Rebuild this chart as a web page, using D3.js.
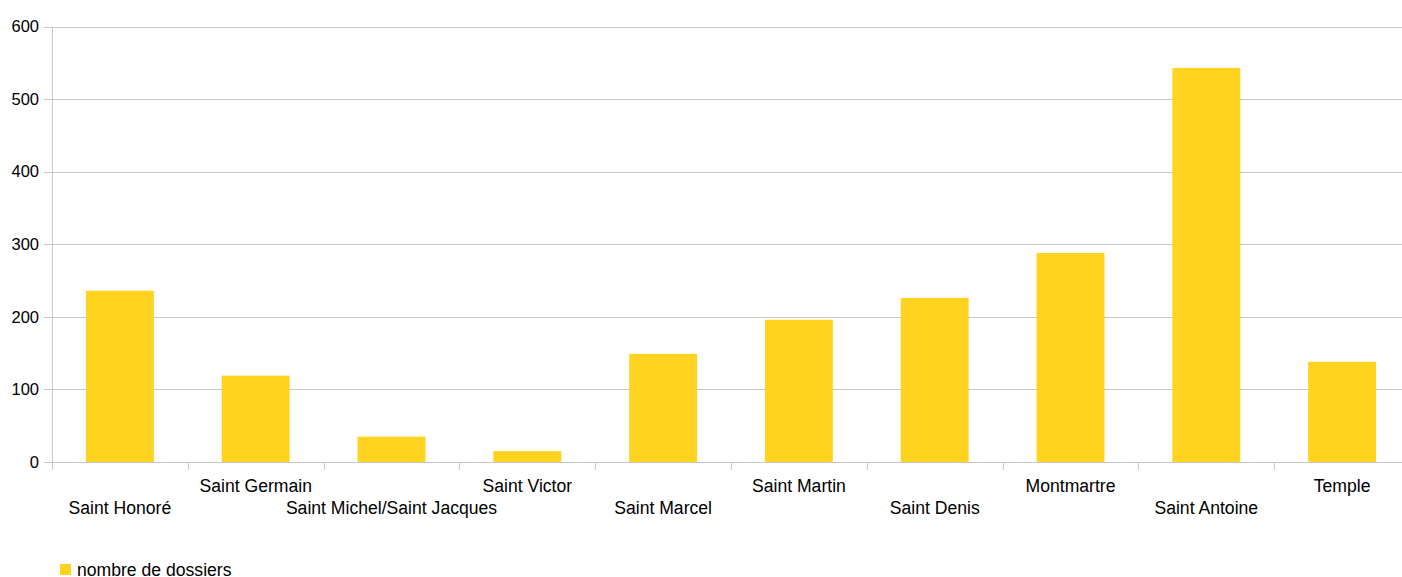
<!DOCTYPE html>
<html>
<head>
<meta charset="utf-8">
<script src="https://cdn.jsdelivr.net/npm/d3@7"></script>
<style>
  body { margin: 0; background: #fff; }
  text { font-family: "Liberation Sans", Arial, sans-serif; fill: #000; }
</style>
</head>
<body>
<div id="container"></div>
<script>
// data
var categories = ['Saint Honoré', 'Saint Germain', 'Saint Michel/Saint Jacques', 'Saint Victor',
    'Saint Marcel', 'Saint Martin', 'Saint Denis', 'Montmartre', 'Saint Antoine', 'Temple']
var values = [236, 119, 35, 15, 149, 196, 226, 288, 543, 138]
var yTicks = [0, 100, 200, 300, 400, 500, 600]
var seriesName = 'nombre de dossiers'

var width = 1402, height = 577
var plotLeft = 52, plotRight = 1410, plotTop = 26.5, plotBottom = 462

var svg = d3.select('#container').append('svg')
    .attr('width', width).attr('height', height)

var x = d3.scaleBand().domain(categories).range([plotLeft, plotRight]).paddingInner(0.5).paddingOuter(0.25)
var band = d3.scaleBand().domain(categories).range([plotLeft, plotRight])
var y = d3.scaleLinear().domain([0, 600]).range([plotBottom, plotTop])

// gridlines
svg.append('g').selectAll('line').data(yTicks).enter().append('line')
    .attr('x1', plotLeft - 8).attr('x2', plotRight)
    .attr('y1', function(d) { return Math.round(y(d)) + 0.5 })
    .attr('y2', function(d) { return Math.round(y(d)) + 0.5 })
    .style('stroke', '#c8c8c8').style('stroke-width', 1)

// y axis line
svg.append('line')
    .attr('x1', plotLeft + 0.5).attr('x2', plotLeft + 0.5)
    .attr('y1', y(600)).attr('y2', plotBottom + 8)
    .style('stroke', '#c8c8c8')

// x ticks between categories
svg.append('g').selectAll('line').data(categories.slice(1)).enter().append('line')
    .attr('x1', function(d) { return Math.round(band(d)) + 0.5 })
    .attr('x2', function(d) { return Math.round(band(d)) + 0.5 })
    .attr('y1', Math.round(plotBottom) + 0.5).attr('y2', plotBottom + 8)
    .style('stroke', '#c8c8c8')

// bars
svg.append('g').selectAll('rect').data(values).enter().append('rect')
    .attr('x', function(d, i) { return x(categories[i]) })
    .attr('width', x.bandwidth())
    .attr('y', function(d) { return y(d) })
    .attr('height', function(d) { return y(0) - y(d) })
    .style('fill', '#ffd320')

// y tick labels
svg.append('g').selectAll('text').data(yTicks).enter().append('text')
    .attr('x', 39).attr('y', function(d) { return y(d) })
    .attr('dy', '0.35em')
    .attr('text-anchor', 'end')
    .style('font-size', '16.5px')
    .text(function(d) { return d })

// category labels, staggered
svg.append('g').selectAll('text').data(categories).enter().append('text')
    .attr('x', function(d) { return band(d) + band.bandwidth() / 2 })
    .attr('y', function(d, i) { return i % 2 == 0 ? 514 : 492 })
    .attr('text-anchor', 'middle')
    .style('font-size', '17.6px')
    .text(function(d) { return d })

// legend
svg.append('rect').attr('x', 60).attr('y', 564).attr('width', 11).attr('height', 11)
    .style('fill', '#ffd320')
svg.append('text').attr('x', 77).attr('y', 575.5)
    .style('font-size', '17.6px')
    .text(seriesName)
</script>
</body>
</html>
